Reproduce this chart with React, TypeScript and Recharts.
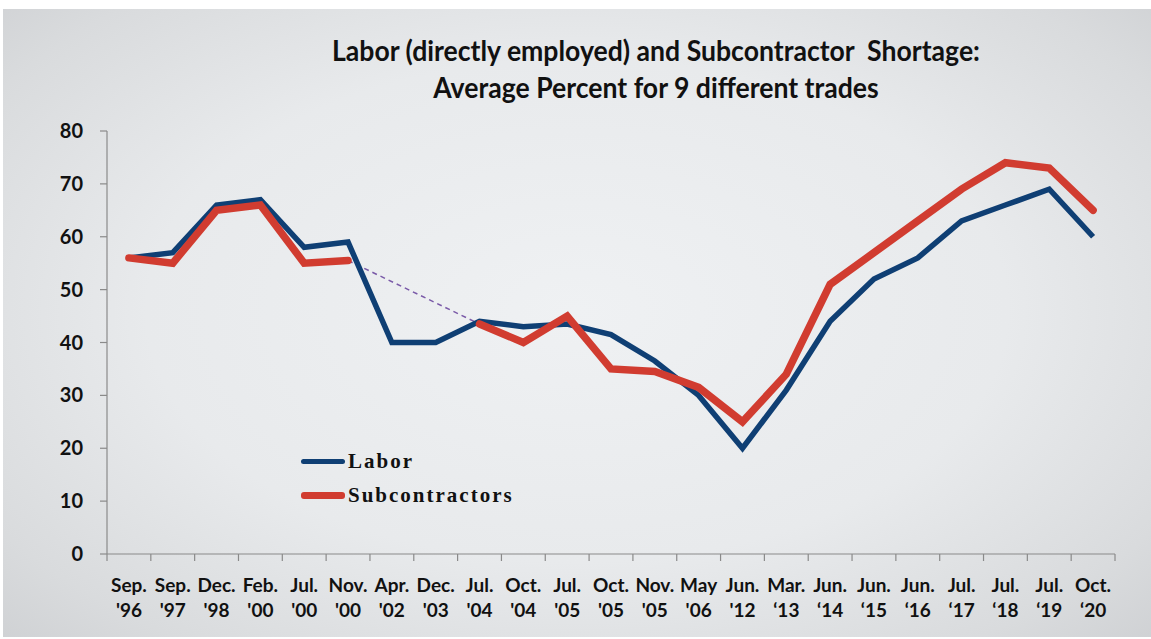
import { Line, LineChart, XAxis, YAxis } from "recharts";

const months = [
  "Sep.", "Sep.", "Dec.", "Feb.", "Jul.", "Nov.", "Apr.", "Dec.", "Jul.", "Oct.", "Jul.", "Oct.",
  "Nov.", "May", "Jun.", "Mar.", "Jun.", "Jun.", "Jun.", "Jul.", "Jul.", "Jul.", "Oct.",
];
const years = [
  "'96", "'97", "'98", "'00", "'00", "'00", "'02", "'03", "'04", "'04", "'05", "'05",
  "'05", "'06", "'12", "\u201813", "\u201814", "\u201815", "\u201816", "\u201817", "\u201818", "\u201819", "\u201820",
];
const labor = [56, 57, 66, 67, 58, 59, 40, 40, 44, 43, 43.5, 41.5, 36.5, 30, 20, 31, 44, 52, 56, 63, 66, 69, 60];
const subcontractors = [
  56, 55, 65, 66, 55, 55.5, null, null, 43.5, 40, 45, 35, 34.5, 31.5, 25, 34, 51, 57, 63, 69, 74, 73, 65,
];
// ends of the dotted bridge across the missing subcontractor surveys
const gapEnds = [5, 8];
const yTicks = [0, 10, 20, 30, 40, 50, 60, 70, 80];

const data = months.map((m, i) => ({
  month: m,
  year: years[i],
  key: `${m} ${years[i]}`,
  labor: labor[i],
  sub: subcontractors[i],
  gap: gapEnds.includes(i) ? subcontractors[i] : null,
}));

const BLUE = "#0f3f74";
const RED = "#d13c30";
const AXIS = "#8a8a8a";
const SANS = "Lato, 'Open Sans', sans-serif";

function CategoryTick(props: any) {
  const { x, y, payload, index, visibleTicksCount, width } = props;
  const half = payload.offset || width / visibleTicksCount / 2;
  const row = data[index];
  return (
    <g>
      <line x1={x - half} y1={y} x2={x - half} y2={y + 7} stroke={AXIS} strokeWidth={1.2} />
      {index === visibleTicksCount - 1 && (
        <line x1={x + half} y1={y} x2={x + half} y2={y + 7} stroke={AXIS} strokeWidth={1.2} />
      )}
      <text x={x} y={y + 38} textAnchor="middle" fontFamily={SANS} fontWeight={700} fontSize={19} fill="#111">
        {row.month}
      </text>
      <text x={x} y={y + 63} textAnchor="middle" fontFamily={SANS} fontWeight={700} fontSize={19} fill="#111">
        {row.year}
      </text>
    </g>
  );
}

export default function App() {
  return (
    <div style={{ position: "absolute", left: 0, top: 0, width: 1151, height: 639, background: "#fff" }}>
      <div
        style={{
          position: "absolute",
          left: 3,
          top: 9,
          right: 0,
          bottom: 2,
          background:
            "radial-gradient(ellipse 75% 80% at 50% 48%, #eff1f3 0%, #e8eaec 50%, #d9dbdd 80%, #cbcdd0 100%)",
        }}
      />
      <div
        style={{
          position: "absolute",
          left: 171,
          width: 970,
          top: 32,
          textAlign: "center",
          fontFamily: SANS,
          fontWeight: 700,
          fontSize: 28,
          lineHeight: "37px",
          color: "#111",
          transform: "scaleX(0.95)",
          transformOrigin: "50% 0",
        }}
      >
        <div>Labor (directly employed) and Subcontractor&nbsp; Shortage:</div>
        <div>Average Percent for 9 different trades</div>
      </div>
      <div style={{ position: "absolute", left: 0, top: 0 }}>
        <LineChart width={1151} height={639} data={data} margin={{ top: 131, right: 36, left: 0, bottom: 25 }}>
          <XAxis
            dataKey="key"
            scale="band"
            interval={0}
            height={60}
            tickSize={0}
            tickMargin={0}
            stroke={AXIS}
            axisLine={{ stroke: AXIS, strokeWidth: 1.2 }}
            tick={<CategoryTick />}
          />
          <YAxis
            width={107}
            domain={[0, 80]}
            ticks={yTicks}
            tickSize={7}
            tickMargin={17}
            axisLine={{ stroke: AXIS, strokeWidth: 1.2 }}
            tickLine={{ stroke: AXIS, strokeWidth: 1.2 }}
            tick={{ fontFamily: SANS, fontWeight: 700, fontSize: 20, fill: "#111" }}
          />
          <Line
            dataKey="gap"
            stroke="#7a5aa8"
            strokeWidth={1.5}
            strokeDasharray="5 4"
            dot={false}
            connectNulls
            isAnimationActive={false}
          />
          <Line dataKey="labor" stroke={BLUE} strokeWidth={5.5} dot={false} isAnimationActive={false} />
          <Line dataKey="sub" stroke={RED} strokeWidth={7.5} dot={false} strokeLinecap="round" isAnimationActive={false} />
        </LineChart>
      </div>
      <div
        style={{
          position: "absolute",
          left: 301,
          top: 444,
          fontFamily: "'Liberation Serif', 'DejaVu Serif', serif",
          fontWeight: 700,
          fontSize: 21,
          letterSpacing: 2,
          color: "#111",
        }}
      >
        {[
          { name: "Labor", color: BLUE, w: 5 },
          { name: "Subcontractors", color: RED, w: 7 },
        ].map((s) => (
          <div key={s.name} style={{ display: "flex", alignItems: "center", height: 34 }}>
            <span
              style={{ display: "inline-block", width: 44, height: s.w, borderRadius: 3, background: s.color, marginRight: 3 }}
            />
            <span>{s.name}</span>
          </div>
        ))}
      </div>
    </div>
  );
}
